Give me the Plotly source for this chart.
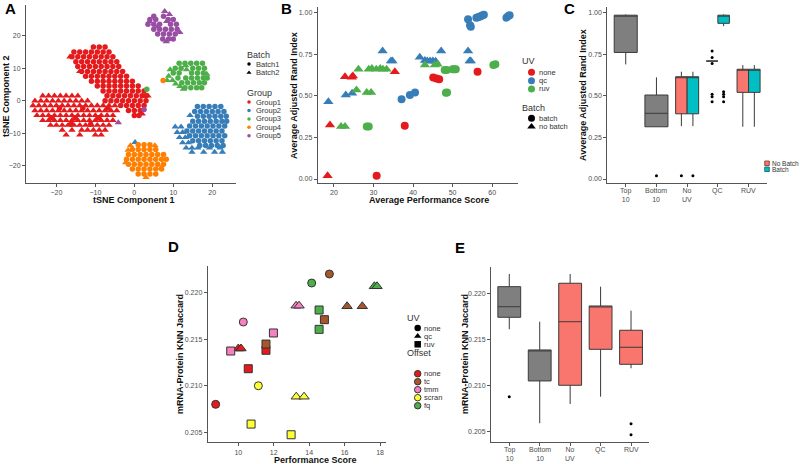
import plotly.graph_objects as go

W, H = 800, 464
FONT = "Liberation Sans"

def px(x):
    return x / W

def py(y):
    return 1 - y / H

# ================= Panel A : tSNE =================
A_groups = ["Group1", "Group2", "Group3", "Group4", "Group5"]
A_colors = ["#E41A1C", "#377EB8", "#4DAF4A", "#FF7F00", "#984EA3"]
A_batches = ["Batch1", "Batch2"]

# rows: (tSNE Component 2, [tSNE Component 1 values])
A_g1_batch1 = [
    (16.5, [-10.5, -9, -7.5]),
    (15, [-15.5, -14, -12.5, -11, -9.5, -8, -6.5]),
    (13.5, [-16, -14.5, -13, -11.5, -10, -8.5, -7, -5.5]),
    (12, [-15, -13.5, -12, -10.5, -9, -7.5, -6, -4.5]),
    (10.5, [-14.5, -13, -11.5, -10, -8.5, -7, -5.5, -4]),
    (9, [-13.5, -12, -10.5, -9, -7.5, -6, -4.5, -3]),
    (7.5, [-12.5, -11, -9.5, -8, -6.5, -5, -3.5, -2]),
    (6, [-11, -9.5, -8, -6.5, -5, -3.5, -2, -0.5]),
    (4.5, [-9.5, -8, -6.5, -5, -3.5, -2, -0.5, 1]),
    (3, [-8, -6.5, -5, -3.5, -2, -0.5, 1, 2.5]),
    (1.5, [-7, -5.5, -4, -2.5, -1, 0.5, 2, 3]),
    (0, [-7.5, -6, -4.5, -3, -1.5, 0, 1.5, 3]),
    (-1.5, [-3.5, -2, -0.5, 1, 2.5]),
    (-3, [-1.5, 0, 1.5]),
    (-4.5, [0, 1.2]),
    (-2.2, [-19.2, -13.2, -6.8]),
    (-5.2, [-21.2, -15.2, -9.2]),
    (-7.2, [-16.2, -11.2]),
]
A_g1_batch2 = [
    (1.5, [-23.5, -22, -20.5, -19, -17.5, -16, -14.5, 3.5]),
    (0, [-25.5, -24, -22.5, -21, -19.5, -18, -16.5, -15, -13.5, -12]),
    (-1.5, [-26, -24.5, -23, -21.5, -20, -18.5, -17, -15.5, -14, -12.5, -11, -9.5, -8, -6.5, -5]),
    (-3, [-25.5, -24, -22.5, -21, -19.5, -18, -16.5, -15, -13.5, -12, -10.5, -9, -7.5, -6, -4.5]),
    (-4.5, [-25, -23.5, -22, -20.5, -19, -17.5, -16, -14.5, -13, -11.5, -10, -8.5, -7, -5.5]),
    (-6, [-23.5, -22, -20.5, -19, -17.5, -16, -14.5, -13, -11.5, -10, -8.5, -7, -5.5]),
    (-7.5, [-21.5, -20, -18.5, -17, -15.5, -14, -12.5, -11, -9.5, -8, -6.5]),
    (-9, [-18.5, -16, -13.5, -12, -10.5, -9, -7.5]),
    (-10.5, [-17.5, -14, -10, -8.5]),
    (13.5, [-16.5]),
    (9, [-14]),
    (-4, [2]),
]
A_g2_batch1 = [
    (-1.8, [16.2, 17.7, 19.2, 20.7, 22.2]),
    (-3.3, [15.5, 17, 18.5, 20, 21.5, 23]),
    (-4.8, [16.2, 17.7, 19.2, 20.7, 22.2, 23.6]),
    (-6.3, [15, 16.5, 18, 19.5, 21, 22.5, 23.7]),
    (-7.8, [14.2, 15.7, 17.2, 18.7, 20.2, 21.7, 23.2]),
    (-9.3, [13.5, 15, 16.5, 18, 19.5, 21, 22.5]),
    (-10.8, [14.2, 15.7, 17.2, 18.7, 20.2, 21.7, 23.2]),
    (-12.3, [15, 16.5, 18, 19.5, 21, 22.5]),
    (-13.8, [16.8, 18.3, 19.8, 21.3, 22.8]),
]
A_g2_batch2 = [
    (-8, [10.5, 12]),
    (-9.7, [11, 12.4]),
    (-11.3, [11.6, 13.1]),
    (-12.9, [12.4, 13.9]),
    (-14.5, [13.3, 14.8, 16.3, 19.3, 22]),
    (-15.8, [14.8, 17.8, 20.6, 22.6]),
    (-4.5, [14.3]),
    (-12.8, [0.2]),
]
A_g3_batch1 = [
    (11.5, [11.5, 13, 14.5, 16, 17.5]),
    (10, [10.5, 12, 15, 16.5, 18]),
    (8.5, [10, 11.5, 14.7, 16.2, 17.7]),
    (7, [11.2, 13.2, 14.7, 16.2, 17.7, 18.7]),
    (5.5, [12.2, 13.7, 15.2, 16.7, 18]),
    (4, [13, 14.5, 16, 17.3]),
    (3.5, [3.2]),
]
A_g3_batch2 = [
    (9.6, [9.2, 13.4]),
    (10.8, [13.2]),
    (7.6, [8.8]),
    (6.3, [8.4, 9.8]),
    (5.2, [10.6]),
    (4.4, [11.7]),
    (3.6, [12.6]),
    (8.2, [18.6]),
]
A_g4_batch1 = [
    (-13.5, [1, 2.5, 4]),
    (-15, [-0.5, 1, 2.5, 4, 5.5]),
    (-16.5, [-1.5, 0, 1.5, 3, 4.5, 6, 7.5]),
    (-18, [-2, -0.5, 1, 2.5, 4, 5.5, 7, 8.2]),
    (-19.5, [-1.5, 0, 1.5, 3, 4.5, 6, 7.5]),
    (-21, [-0.5, 1, 2.5, 4, 5.5, 7]),
    (-22.5, [1, 2.5, 4, 5.5]),
    (6.2, [7.4]),
]
A_g4_batch2 = [
    (-13.8, [-1, 5.3]),
    (-15.2, [-1.6]),
    (-19, [-2.2]),
    (-20.7, [6.8]),
    (-23.6, [3]),
]
A_g5_batch1 = [
    (26, [5, 7.5]),
    (25, [4, 5.5, 8.7, 10]),
    (23.5, [3.5, 5, 6.5, 9.3, 10.8]),
    (22, [5, 6.5, 8, 9.5, 11]),
    (20.5, [6, 7.5, 9, 10.5]),
    (19, [7.3, 8.8, 10]),
    (-2.7, [2.5]),
]
A_g5_batch2 = [
    (27.5, [7.8]),
    (26.6, [9]),
    (24.4, [3.9, 8.3]),
    (22.8, [6]),
    (21, [11.7]),
    (18.2, [8.2]),
    (-6.7, [-4.1]),
]
A_data = [
    (A_g1_batch1, A_g1_batch2),
    (A_g2_batch1, A_g2_batch2),
    (A_g3_batch1, A_g3_batch2),
    (A_g4_batch1, A_g4_batch2),
    (A_g5_batch1, A_g5_batch2),
]

# ================= Panel B =================
B_uv = ["none", "qc", "ruv"]
B_uv_colors = ["#E41A1C", "#377EB8", "#4DAF4A"]
B_none_batch_x = [30.8, 37.9, 45.1, 45.9, 46.6, 56.3]
B_none_batch_y = [0.02, 0.32, 0.61, 0.605, 0.60, 0.645]
B_none_nobatch_x = [18.4, 19.0, 22.8, 24.5, 24.8, 35.4]
B_none_nobatch_y = [0.02, 0.325, 0.615, 0.612, 0.62, 0.645]
B_qc_batch_x = [37.1, 39.2, 40.5, 53.9, 54.4, 54.6, 56.0, 56.4, 56.8, 57.2, 57.6, 57.9, 63.6, 64.0, 64.4]
B_qc_batch_y = [0.48, 0.505, 0.52, 0.96, 0.925, 0.915, 0.97, 0.972, 0.976, 0.98, 0.985, 0.988, 0.97, 0.978, 0.985]
B_qc_nobatch_x = [18.6, 23.0, 24.6, 32.3, 34.4, 34.8, 41.7, 43.0, 43.6, 44.3, 45.0, 45.7, 47.1, 53.9, 54.3, 54.6]
B_qc_nobatch_y = [0.465, 0.505, 0.515, 0.77, 0.71, 0.71, 0.732, 0.712, 0.71, 0.71, 0.71, 0.708, 0.77, 0.77, 0.71, 0.71]
B_ruv_batch_x = [28.3, 28.8, 48.0, 48.5, 48.3, 48.6, 50.0, 50.4, 50.8, 60.3, 60.8]
B_ruv_batch_y = [0.315, 0.315, 0.655, 0.655, 0.518, 0.52, 0.66, 0.66, 0.66, 0.685, 0.69]
B_ruv_nobatch_x = [21.8, 22.8, 25.7, 26.2, 28.3, 29.4, 28.8, 29.6, 30.7, 31.7, 32.4, 33.3, 43.0, 45.5, 46.2]
B_ruv_nobatch_y = [0.315, 0.315, 0.535, 0.66, 0.52, 0.52, 0.66, 0.665, 0.66, 0.665, 0.66, 0.66, 0.686, 0.686, 0.69]
B_series = [
    ("none", "batch", B_none_batch_x, B_none_batch_y),
    ("none", "no batch", B_none_nobatch_x, B_none_nobatch_y),
    ("qc", "batch", B_qc_batch_x, B_qc_batch_y),
    ("qc", "no batch", B_qc_nobatch_x, B_qc_nobatch_y),
    ("ruv", "batch", B_ruv_batch_x, B_ruv_batch_y),
    ("ruv", "no batch", B_ruv_nobatch_x, B_ruv_nobatch_y),
]

# ================= Panel C (boxplots, ARI) =================
C_cats = ["Top<br>10", "Bottom<br>10", "No<br>UV", "QC", "RUV"]
C_grey_cats = [1, 2]
C_grey_q1 = [0.761, 0.314]
C_grey_med = [0.983, 0.395]
C_grey_q3 = [0.985, 0.505]
C_grey_lo = [0.689, 0.314]
C_grey_hi = [0.99, 0.611]
C_grey_out = [[], [0.02]]
C_split_cats = [3, 4, 5]
C_nob_q1 = [0.392, 0.709, 0.521]
C_nob_med = [0.61, 0.709, 0.655]
C_nob_q3 = [0.615, 0.709, 0.66]
C_nob_lo = [0.318, 0.709, 0.314]
C_nob_hi = [0.645, 0.709, 0.685]
C_nob_out = [[0.02], [0.77, 0.73, 0.695, 0.51, 0.495, 0.465], []]
C_bat_q1 = [0.392, 0.936, 0.521]
C_bat_med = [0.61, 0.98, 0.655]
C_bat_q3 = [0.615, 0.985, 0.66]
C_bat_lo = [0.318, 0.919, 0.314]
C_bat_hi = [0.645, 0.99, 0.685]
C_bat_out = [[0.02], [0.525, 0.51, 0.495, 0.465], []]

# ================= Panel D =================
D_offsets = ["none", "tc", "tmm", "scran", "fq"]
D_colors = ["#E41A1C", "#A65628", "#F781BF", "#FFFF33", "#4DAF4A"]
D_uvs = ["none", "qc", "ruv"]
D_symbols = ["circle", "triangle-up", "square"]
D_perf = {
    ("none", "none"): [8.72], ("none", "qc"): [10.0, 10.15], ("none", "ruv"): [10.56, 11.56],
    ("tc", "none"): [15.14], ("tc", "qc"): [16.14, 17.0], ("tc", "ruv"): [11.56, 14.86],
    ("tmm", "none"): [10.28], ("tmm", "qc"): [13.26, 13.43], ("tmm", "ruv"): [9.57, 11.98],
    ("scran", "none"): [11.13], ("scran", "qc"): [13.27, 13.71], ("scran", "ruv"): [10.72, 12.98],
    ("fq", "none"): [14.14], ("fq", "qc"): [17.68, 17.83], ("fq", "ruv"): [14.56, 14.56],
}
D_jacc = {
    ("none", "none"): [0.2080], ("none", "qc"): [0.2140, 0.2140], ("none", "ruv"): [0.21183, 0.21381],
    ("tc", "none"): [0.22201], ("tc", "qc"): [0.21854, 0.21854], ("tc", "ruv"): [0.21448, 0.21710],
    ("tmm", "none"): [0.21685], ("tmm", "qc"): [0.21860, 0.21860], ("tmm", "ruv"): [0.21373, 0.21567],
    ("scran", "none"): [0.2100], ("scran", "qc"): [0.20882, 0.20882], ("scran", "ruv"): [0.20588, 0.20473],
    ("fq", "none"): [0.22104], ("fq", "qc"): [0.22069, 0.22069], ("fq", "ruv"): [0.21814, 0.21606],
}

# ================= Panel E (boxplots, Jaccard) =================
E_cats = ["Top<br>10", "Bottom<br>10", "No<br>UV", "QC", "RUV"]
E_q1 = [0.21739, 0.21047, 0.21000, 0.21391, 0.21228]
E_med = [0.21854, 0.21380, 0.21691, 0.21855, 0.21413]
E_q3 = [0.22072, 0.21384, 0.22109, 0.21862, 0.21598]
E_lo = [0.21609, 0.20587, 0.20797, 0.20876, 0.21185]
E_hi = [0.22210, 0.21691, 0.22210, 0.22072, 0.21811]
E_out = [[0.20876], [], [], [], [0.20583, 0.20463]]
E_fill = ["#7F7F7F", "#7F7F7F", "#F8766D", "#F8766D", "#F8766D"]

GREY = "#7F7F7F"
SALMON = "#F8766D"
TEAL = "#00BFC4"
TICK_C = "#4D4D4D"

fig = go.Figure()


def expand(rows):
    xs, ys = [], []
    for yv, xvals in rows:
        for xv in xvals:
            xs.append(xv)
            ys.append(yv)
    return xs, ys


# ---- A traces
for gi, (b1, b2) in enumerate(A_data):
    for rows, sym, sz in ((b2, "triangle-up", 6.5), (b1, "circle", 5.5)):
        xs, ys = expand(rows)
        fig.add_trace(go.Scatter(x=xs, y=ys, mode="markers", xaxis="x", yaxis="y",
                                 marker=dict(color=A_colors[gi], symbol=sym, size=sz, line=dict(width=0)),
                                 showlegend=False, hoverinfo="skip"))

# ---- B traces
for uv, batch, xs, ys in B_series:
    col = B_uv_colors[B_uv.index(uv)]
    sym = "circle" if batch == "batch" else "triangle-up"
    sz = 8 if batch == "batch" else 9
    fig.add_trace(go.Scatter(x=xs, y=ys, mode="markers", xaxis="x2", yaxis="y2",
                             marker=dict(color=col, symbol=sym, size=sz, line=dict(width=0)),
                             showlegend=False, hoverinfo="skip"))

# ---- C traces
BOXLINE = "#3A3A3A"

def add_box(xa, ya, pos, q1, med, q3, lo, hi, fill, width):
    fig.add_trace(go.Box(x=[pos], q1=[q1], median=[med], q3=[q3], lowerfence=[lo], upperfence=[hi],
                         width=width, fillcolor=fill, line=dict(color=BOXLINE, width=1),
                         whiskerwidth=0, boxpoints=False, xaxis=xa, yaxis=ya,
                         showlegend=False, hoverinfo="skip"))

def add_out(xa, ya, pos, vals):
    if vals:
        fig.add_trace(go.Scatter(x=[pos] * len(vals), y=vals, mode="markers", xaxis=xa, yaxis=ya,
                                 marker=dict(color="black", size=3), showlegend=False, hoverinfo="skip"))

for i, c in enumerate(C_grey_cats):
    add_box("x3", "y3", c, C_grey_q1[i], C_grey_med[i], C_grey_q3[i], C_grey_lo[i], C_grey_hi[i], GREY, 0.75)
    add_out("x3", "y3", c, C_grey_out[i])
for i, c in enumerate(C_split_cats):
    add_box("x3", "y3", c - 0.1875, C_nob_q1[i], C_nob_med[i], C_nob_q3[i], C_nob_lo[i], C_nob_hi[i], SALMON, 0.375)
    add_box("x3", "y3", c + 0.1875, C_bat_q1[i], C_bat_med[i], C_bat_q3[i], C_bat_lo[i], C_bat_hi[i], TEAL, 0.375)
    add_out("x3", "y3", c - 0.1875, C_nob_out[i])
    add_out("x3", "y3", c + 0.1875, C_bat_out[i])

# ---- D traces
for oi, off in enumerate(D_offsets):
    for ui, uv in enumerate(D_uvs):
        fig.add_trace(go.Scatter(x=D_perf[(off, uv)], y=D_jacc[(off, uv)], mode="markers",
                                 xaxis="x4", yaxis="y4",
                                 marker=dict(color=D_colors[oi], symbol=D_symbols[ui], size=9 if ui == 1 else 8,
                                             line=dict(color="#333333", width=1)),
                                 showlegend=False, hoverinfo="skip"))

# ---- E traces
for i in range(len(E_cats)):
    add_box("x5", "y5", i + 1, E_q1[i], E_med[i], E_q3[i], E_lo[i], E_hi[i], E_fill[i], 0.75)
    add_out("x5", "y5", i + 1, E_out[i])

# ---- Legend glyphs (overlay in pixel space)
def leg_marker(x, y, color, symbol, size, line_color=None):
    fig.add_trace(go.Scatter(x=[x], y=[y], mode="markers", xaxis="x6", yaxis="y6",
                             marker=dict(color=color, symbol=symbol, size=size,
                                         line=dict(color=line_color or color, width=1 if line_color else 0)),
                             showlegend=False, hoverinfo="skip"))

def text(x, y, s, size=7.5, color="#333333", anchor="left", angle=0, vanchor="middle"):
    fig.add_annotation(x=px(x), y=py(y), xref="paper", yref="paper", text=s, showarrow=False,
                       xanchor=anchor, yanchor=vanchor, textangle=angle,
                       font=dict(size=size, color=color, family=FONT))

# A legend
text(245, 55, "Batch", size=9)
leg_marker(249, 64, "black", "circle", 3.5)
leg_marker(249, 72.7, "black", "triangle-up", 4.5)
text(253.5, 64, A_batches[0])
text(253.5, 72.7, A_batches[1])
text(245, 93, "Group", size=9)
for gi, g in enumerate(A_groups):
    yy = 102 + gi * 8.45
    leg_marker(249, yy, A_colors[gi], "circle", 3.5)
    text(253.5, yy, g)

# B legend
text(520, 61, "UV", size=9)
for ui, uv in enumerate(B_uv):
    yy = 72.3 + ui * 8.35
    leg_marker(531.5, yy, B_uv_colors[ui], "circle", 7)
    text(537, yy, uv)
text(520, 107.7, "Batch", size=9)
leg_marker(531.5, 118.3, "black", "circle", 7)
leg_marker(531.5, 126.7, "black", "triangle-up", 7.5)
text(537, 118.3, "batch")
text(537, 126.7, "no batch")

# C legend
leg_marker(767, 163.3, SALMON, "square", 4.5, "#8a4a44")
leg_marker(767, 169.3, TEAL, "square", 4.5, "#226f72")
text(769.5, 163.3, "No Batch", size=6.5)
text(769.5, 169.3, "Batch", size=6.5)

# D legend
text(405, 317.7, "UV", size=9)
for ui, uv in enumerate(D_uvs):
    yy = 328 + ui * 8.15
    leg_marker(417.7, yy, "black", D_symbols[ui], 6.5)
    text(422.3, yy, uv)
text(405, 353.3, "Offset", size=9)
for oi, off in enumerate(D_offsets):
    yy = 373.7 + oi * 8.0
    leg_marker(417.7, yy, D_colors[oi], "circle", 6.5, "#333333")
    text(422.3, yy, off)

# ---- Axis titles & panel letters
TITLE_C = "#111111"
text(134, 200, "<b>tSNE Component 1</b>", size=9, color=TITLE_C, anchor="center")
text(6, 96, "<b>tSNE Component 2</b>", size=9, color=TITLE_C, anchor="center", angle=-90)
text(429, 200, "<b>Average Performance Score</b>", size=9, color=TITLE_C, anchor="center")
text(294, 96, "<b>Average Adjusted Rand Index</b>", size=9, color=TITLE_C, anchor="center", angle=-90)
text(583, 95, "<b>Avverage Adjusted Rand Index</b>", size=9, color=TITLE_C, anchor="center", angle=-90)
text(315, 459.5, "<b>Performance Score</b>", size=9, color=TITLE_C, anchor="center")
text(180, 354, "<b>mRNA-Protein KNN Jaccard</b>", size=9, color=TITLE_C, anchor="center", angle=-90)
text(465, 354, "<b>mRNA-Protein KNN Jaccard</b>", size=9, color=TITLE_C, anchor="center", angle=-90)

for letter, lx, ly in (("A", 10, 9), ("B", 286, 8), ("C", 569, 8), ("D", 173, 246), ("E", 460, 248)):
    text(lx, ly, "<b>" + letter + "</b>", size=15, color="#000000", anchor="center")

# ---- Category labels for the box-plot panels (placed from the axis domain/range)
C_dom_px = (607.3, 767.0)
E_dom_px = (491.0, 649.3)
CAT_RANGE = (0.4, 5.6)

def cat_labels(cats, dom_px, axis_y):
    for i, lab in enumerate(cats):
        pos = i + 1
        xpix = dom_px[0] + (pos - CAT_RANGE[0]) / (CAT_RANGE[1] - CAT_RANGE[0]) * (dom_px[1] - dom_px[0])
        fig.add_annotation(x=px(xpix), y=py(axis_y + 1.5), xref="paper", yref="paper", text=lab,
                           showarrow=False, xanchor="center", yanchor="top", align="center",
                           font=dict(size=7, color=TICK_C, family=FONT))

cat_labels(C_cats, C_dom_px, 183)
cat_labels(E_cats, E_dom_px, 442.3)

# ---- Axes
def axis(domain, rng, anchor, **kw):
    d = dict(domain=domain, range=rng, anchor=anchor, showline=True, linecolor="#555555", linewidth=1,
             ticks="outside", ticklen=3, tickcolor="#555555", tickwidth=1,
             tickfont=dict(size=7, color=TICK_C, family=FONT),
             showgrid=False, zeroline=False, fixedrange=True)
    d.update(kw)
    return d

yA = [py(183), py(5)]
yB = [py(183), py(6.7)]
yD = [py(442.3), py(266)]

fig.update_layout(
    width=W, height=H, margin=dict(l=0, r=0, t=0, b=0),
    paper_bgcolor="white", plot_bgcolor="rgba(0,0,0,0)", showlegend=False,
    font=dict(family=FONT, color=TICK_C), hovermode=False,
    xaxis=axis([px(26), px(236)], [-27.8, 26.1], "y", tickvals=[-20, -10, 0, 10, 20]),
    yaxis=axis(yA, [-25.3, 29.45], "x", tickvals=[-20, -10, 0, 10, 20]),
    xaxis2=axis([px(317.7), px(518.3)], [15.9, 66.6], "y2", tickvals=[20, 30, 40, 50, 60]),
    yaxis2=axis(yB, [-0.024, 1.036], "x2", tickvals=[0, 0.25, 0.5, 0.75, 1.0], tickformat=".2f"),
    xaxis3=axis([px(C_dom_px[0]), px(C_dom_px[1])], list(CAT_RANGE), "y3", tickvals=[1, 2, 3, 4, 5], showticklabels=False),
    yaxis3=axis(yB, [-0.024, 1.036], "x3", tickvals=[0, 0.25, 0.5, 0.75, 1.0], tickformat=".2f"),
    xaxis4=axis([px(207.7), px(385.7)], [8.27, 18.32], "y4", tickvals=[10, 12, 14, 16, 18]),
    yaxis4=axis(yD, [0.20392, 0.22287], "x4", tickvals=[0.205, 0.21, 0.215, 0.22], tickformat=".3f"),
    xaxis5=axis([px(E_dom_px[0]), px(E_dom_px[1])], list(CAT_RANGE), "y5", tickvals=[1, 2, 3, 4, 5], showticklabels=False),
    yaxis5=axis([py(442.3), py(266.7)], [0.2038, 0.22289], "x5", tickvals=[0.205, 0.21, 0.215, 0.22], tickformat=".3f"),
    xaxis6=dict(domain=[0, 1], range=[0, W], visible=False, fixedrange=True, anchor="y6"),
    yaxis6=dict(domain=[0, 1], range=[H, 0], visible=False, fixedrange=True, anchor="x6"),
    boxmode="overlay",
)

fig.write_html("out.html", config={"displayModeBar": False, "staticPlot": True},
               post_script="document.body.style.margin='0';document.body.style.padding='0';document.body.style.overflow='hidden';")
